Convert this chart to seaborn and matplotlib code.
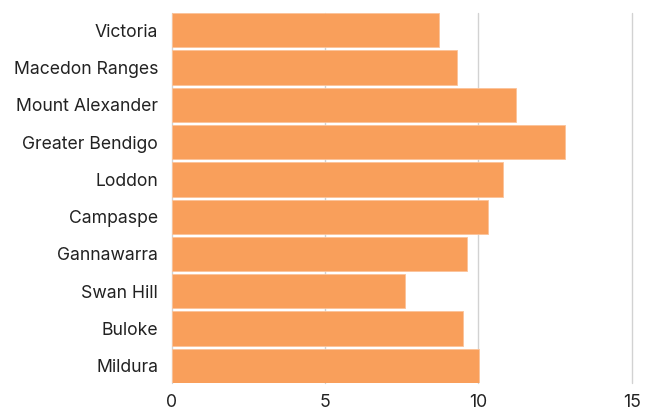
import matplotlib
matplotlib.use("Agg")
import matplotlib.pyplot as plt
import seaborn as sns
import pandas as pd

regions = ["Victoria", "Macedon Ranges", "Mount Alexander", "Greater Bendigo",
           "Loddon", "Campaspe", "Gannawarra", "Swan Hill", "Buloke", "Mildura"]
values = [8.71, 9.31, 11.22, 12.81, 10.81, 10.32, 9.62, 7.61, 9.51, 10.02]
x_ticks = [0, 5, 10, 15]

df = pd.DataFrame({"region": regions, "value": values})

sns.set_theme(style="white")
plt.rcParams["font.family"] = ["Inter", "DejaVu Sans"]

fig = plt.figure(figsize=(6.59, 4.15), dpi=100)
ax = fig.add_axes([0.261, 0.077, 0.6976, 0.8916])

bar_h = 0.92
sns.barplot(data=df, x="value", y="region", orient="h", color="#F99F5B",
            saturation=1, width=bar_h, edgecolor="#FBC39A", linewidth=0.6,
            ax=ax, zorder=2)

ax.set_xlim(0, 15)
ax.set_ylim(len(regions) - 1 + bar_h / 2, -bar_h / 2)
ax.set_xticks(x_ticks)
ax.set_xticklabels([str(t) for t in x_ticks])
ax.xaxis.grid(True, color="#D2D2D2", linewidth=1.0, zorder=0)
for gl in ax.get_xgridlines():
    gl.set_clip_on(False)
ax.set_axisbelow(True)
ax.set_xlabel("")
ax.set_ylabel("")
for s in ax.spines.values():
    s.set_visible(False)
ax.tick_params(axis="both", length=0, labelsize=12.7, colors="#222222")
ax.tick_params(axis="y", pad=10)
ax.tick_params(axis="x", pad=8)

fig.savefig("out.png", dpi=100)
